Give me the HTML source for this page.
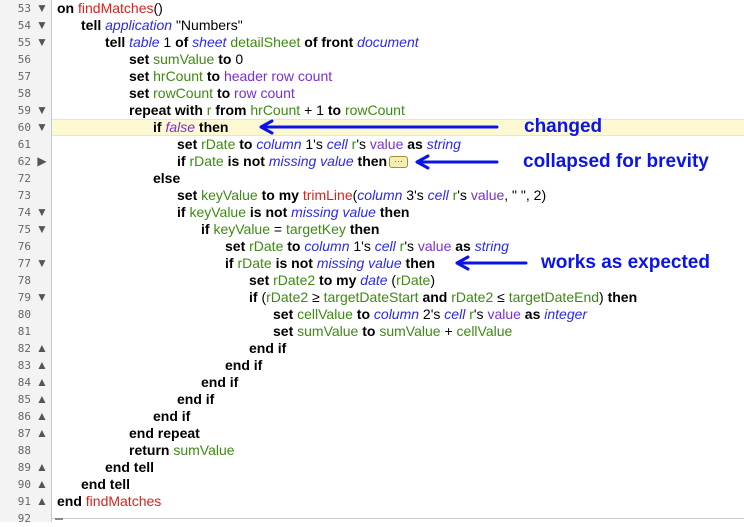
<!DOCTYPE html>
<html><head><meta charset="utf-8"><style>
body{margin:0;width:744px;height:522px;background:#fff;overflow:hidden;position:relative;font-family:"Liberation Sans",sans-serif;}
.gut{position:absolute;left:0;top:0;width:51px;height:522px;background:#f3f3f3;border-right:1px solid #c8c8c8;}
.hl{position:absolute;left:52px;top:119px;width:692px;height:17px;background:#fbf8d2;border-top:1px solid #ece8b0;border-bottom:1px solid #ece8b0;box-sizing:border-box;}
.n{position:absolute;left:0;width:31px;text-align:right;font-family:"DejaVu Sans Mono","Liberation Mono",monospace;font-size:11px;color:#666;line-height:17px;}
.t{position:absolute;left:35px;width:14px;text-align:center;font-size:12px;color:#555;line-height:17px;}
.c{position:absolute;white-space:pre;font-size:14px;line-height:17px;color:#000;}
b{font-weight:bold;color:#000}
.h{color:#e0201a}.v{color:#3d8a12}.k{color:#2a2af0;font-style:italic}.p{color:#7b2fd6}.pi{color:#7b2fd6;font-style:italic}
.lab{position:absolute;font-size:19px;font-weight:bold;color:#0a14e6;white-space:pre;line-height:20px;}
.dots{display:inline-block;width:17px;height:10px;border:1px solid #a09040;background:#f4eeb0;border-radius:3px;font-size:9px;line-height:8px;text-align:center;vertical-align:middle;color:#555;margin-left:2px;}
</style></head><body>
<div class="gut"></div>
<div class="hl"></div>
<div style="position:absolute;left:52px;top:518px;width:692px;border-top:1px solid #ccc"></div>
<div style="position:absolute;left:55px;top:518px;width:8px;border-top:2px solid #888"></div>

<div class="n" style="top:0">53</div><div class="t" style="top:0">▼</div>
<div class="n" style="top:17px">54</div><div class="t" style="top:17px">▼</div>
<div class="n" style="top:34px">55</div><div class="t" style="top:34px">▼</div>
<div class="n" style="top:51px">56</div>
<div class="n" style="top:68px">57</div>
<div class="n" style="top:85px">58</div>
<div class="n" style="top:102px">59</div><div class="t" style="top:102px">▼</div>
<div class="n" style="top:119px">60</div><div class="t" style="top:119px">▼</div>
<div class="n" style="top:136px">61</div>
<div class="n" style="top:153px">62</div><div class="t" style="top:153px">▶</div>
<div class="n" style="top:170px">72</div>
<div class="n" style="top:187px">73</div>
<div class="n" style="top:204px">74</div><div class="t" style="top:204px">▼</div>
<div class="n" style="top:221px">75</div><div class="t" style="top:221px">▼</div>
<div class="n" style="top:238px">76</div>
<div class="n" style="top:255px">77</div><div class="t" style="top:255px">▼</div>
<div class="n" style="top:272px">78</div>
<div class="n" style="top:289px">79</div><div class="t" style="top:289px">▼</div>
<div class="n" style="top:306px">80</div>
<div class="n" style="top:323px">81</div>
<div class="n" style="top:340px">82</div><div class="t" style="top:340px">▲</div>
<div class="n" style="top:357px">83</div><div class="t" style="top:357px">▲</div>
<div class="n" style="top:374px">84</div><div class="t" style="top:374px">▲</div>
<div class="n" style="top:391px">85</div><div class="t" style="top:391px">▲</div>
<div class="n" style="top:408px">86</div><div class="t" style="top:408px">▲</div>
<div class="n" style="top:425px">87</div><div class="t" style="top:425px">▲</div>
<div class="n" style="top:442px">88</div>
<div class="n" style="top:459px">89</div><div class="t" style="top:459px">▲</div>
<div class="n" style="top:476px">90</div><div class="t" style="top:476px">▲</div>
<div class="n" style="top:493px">91</div><div class="t" style="top:493px">▲</div>
<div class="n" style="top:510px">92</div>

<div class="c" style="top:0;left:57px"><b>on</b> <span class="h">findMatches</span>()</div>
<div class="c" style="top:17px;left:81px"><b>tell</b> <span class="k">application</span> "Numbers"</div>
<div class="c" style="top:34px;left:105px"><b>tell</b> <span class="k">table</span> 1 <b>of</b> <span class="k">sheet</span> <span class="v">detailSheet</span> <b>of</b> <b>front</b> <span class="k">document</span></div>
<div class="c" style="top:51px;left:129px"><b>set</b> <span class="v">sumValue</span> <b>to</b> 0</div>
<div class="c" style="top:68px;left:129px"><b>set</b> <span class="v">hrCount</span> <b>to</b> <span class="p">header row count</span></div>
<div class="c" style="top:85px;left:129px"><b>set</b> <span class="v">rowCount</span> <b>to</b> <span class="p">row count</span></div>
<div class="c" style="top:102px;left:129px"><b>repeat with</b> <span class="v">r</span> <b>from</b> <span class="v">hrCount</span> + 1 <b>to</b> <span class="v">rowCount</span></div>
<div class="c" style="top:119px;left:153px"><b>if</b> <span class="pi">false</span> <b>then</b></div>
<div class="c" style="top:136px;left:177px"><b>set</b> <span class="v">rDate</span> <b>to</b> <span class="k">column</span> 1's <span class="k">cell</span> <span class="v">r</span>'s <span class="p">value</span> <b>as</b> <span class="k">string</span></div>
<div class="c" style="top:153px;left:177px"><b>if</b> <span class="v">rDate</span> <b>is not</b> <span class="k">missing value</span> <b>then</b><span class="dots">···</span></div>
<div class="c" style="top:170px;left:153px"><b>else</b></div>
<div class="c" style="top:187px;left:177px"><b>set</b> <span class="v">keyValue</span> <b>to</b> <b>my</b> <span class="h">trimLine</span>(<span class="k">column</span> 3's <span class="k">cell</span> <span class="v">r</span>'s <span class="p">value</span>, " ", 2)</div>
<div class="c" style="top:204px;left:177px"><b>if</b> <span class="v">keyValue</span> <b>is not</b> <span class="k">missing value</span> <b>then</b></div>
<div class="c" style="top:221px;left:201px"><b>if</b> <span class="v">keyValue</span> = <span class="v">targetKey</span> <b>then</b></div>
<div class="c" style="top:238px;left:225px"><b>set</b> <span class="v">rDate</span> <b>to</b> <span class="k">column</span> 1's <span class="k">cell</span> <span class="v">r</span>'s <span class="p">value</span> <b>as</b> <span class="k">string</span></div>
<div class="c" style="top:255px;left:225px"><b>if</b> <span class="v">rDate</span> <b>is not</b> <span class="k">missing value</span> <b>then</b></div>
<div class="c" style="top:272px;left:249px"><b>set</b> <span class="v">rDate2</span> <b>to</b> <b>my</b> <span class="k">date</span> (<span class="v">rDate</span>)</div>
<div class="c" style="top:289px;left:249px"><b>if</b> (<span class="v">rDate2</span> ≥ <span class="v">targetDateStart</span> <b>and</b> <span class="v">rDate2</span> ≤ <span class="v">targetDateEnd</span>) <b>then</b></div>
<div class="c" style="top:306px;left:273px"><b>set</b> <span class="v">cellValue</span> <b>to</b> <span class="k">column</span> 2's <span class="k">cell</span> <span class="v">r</span>'s <span class="p">value</span> <b>as</b> <span class="k">integer</span></div>
<div class="c" style="top:323px;left:273px"><b>set</b> <span class="v">sumValue</span> <b>to</b> <span class="v">sumValue</span> + <span class="v">cellValue</span></div>
<div class="c" style="top:340px;left:249px"><b>end if</b></div>
<div class="c" style="top:357px;left:225px"><b>end if</b></div>
<div class="c" style="top:374px;left:201px"><b>end if</b></div>
<div class="c" style="top:391px;left:177px"><b>end if</b></div>
<div class="c" style="top:408px;left:153px"><b>end if</b></div>
<div class="c" style="top:425px;left:129px"><b>end repeat</b></div>
<div class="c" style="top:442px;left:129px"><b>return</b> <span class="v">sumValue</span></div>
<div class="c" style="top:459px;left:105px"><b>end tell</b></div>
<div class="c" style="top:476px;left:81px"><b>end tell</b></div>
<div class="c" style="top:493px;left:57px"><b>end</b> <span class="h">findMatches</span></div>

<svg style="position:absolute;left:0;top:0" width="744" height="522">
<g stroke="#0a14e6" stroke-width="3" fill="none" stroke-linecap="round" stroke-linejoin="round">
<line x1="262" y1="127" x2="497" y2="127"/><polyline points="272,121 261,127 272,133"/>
<line x1="418" y1="162" x2="497" y2="162"/><polyline points="428,156 417,162 428,168"/>
<line x1="458" y1="263" x2="526" y2="263"/><polyline points="468,257 457,263 468,269"/>
</g></svg>
<div class="lab" style="left:524px;top:117px">changed</div>
<div class="lab" style="left:523px;top:152px">collapsed for brevity</div>
<div class="lab" style="left:541px;top:253px">works as expected</div>
</body></html>
